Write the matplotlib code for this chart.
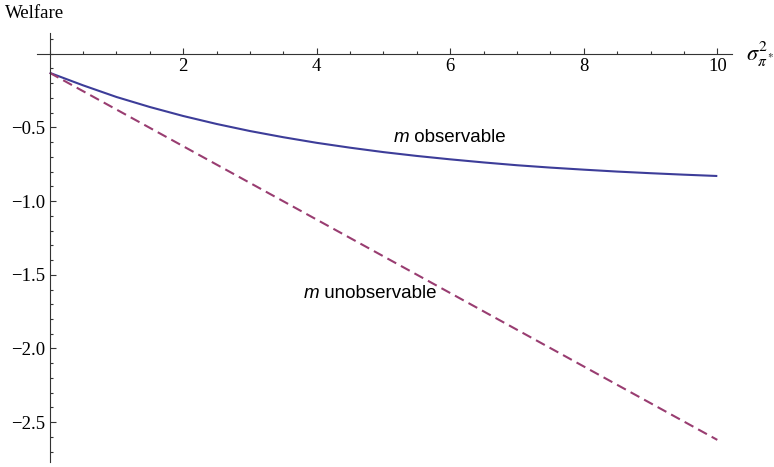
import numpy as np
import matplotlib.pyplot as plt
from matplotlib.ticker import MultipleLocator, FixedLocator

plt.rcParams['mathtext.fontset'] = 'stix'

# values
sigma = [0, 0.5, 1, 1.5, 2, 2.5, 3, 3.5, 4, 4.5, 5, 5.5, 6, 6.5, 7, 7.5, 8, 8.5, 9, 9.5, 10]
welfare_obs = [-0.13, -0.215, -0.294, -0.362, -0.423, -0.477, -0.525, -0.567, -0.605,
               -0.638, -0.668, -0.694, -0.717, -0.738, -0.757, -0.773, -0.787,
               -0.800, -0.811, -0.821, -0.830]
sigma_unobs = [0, 10]
welfare_unobs = [-0.13, -2.62]

blue = '#3d3d99'
purple = '#993d71'

fig = plt.figure(figsize=(7.74, 4.67), dpi=100)
ax = fig.add_axes([37 / 774, 5 / 467, 695 / 774, 429 / 467])

ax.plot(sigma, welfare_obs, color=blue, lw=1.5, solid_capstyle='butt')
ax.plot(sigma_unobs, welfare_unobs, color=purple, lw=1.5, dashes=(4.8, 2.6))

ax.set_xlim(-0.19, 10.22)
ax.set_ylim(-2.77, 0.14)

for s in ['top', 'right']:
    ax.spines[s].set_visible(False)
ax.spines['bottom'].set_position(('data', 0))
ax.spines['left'].set_position(('data', 0))
for s in ['bottom', 'left']:
    ax.spines[s].set_linewidth(0.8)
    ax.spines[s].set_color('#333333')

ax.xaxis.set_major_locator(FixedLocator([2, 4, 6, 8, 10]))
ax.xaxis.set_minor_locator(MultipleLocator(0.5))
ax.yaxis.set_major_locator(FixedLocator([-0.5, -1.0, -1.5, -2.0, -2.5]))
ax.yaxis.set_minor_locator(MultipleLocator(0.1))
ax.set_xticklabels(['2', '4', '6', '8', '10'])
ax.set_yticklabels(['\u22120.5', '\u22121.0', '\u22121.5', '\u22122.0', '\u22122.5'])

ax.tick_params(which='both', direction='in', color='#333333', width=0.8,
               labelsize=13.5, labelfontfamily='Liberation Serif')
ax.tick_params(which='major', length=4.5, pad=3)
ax.tick_params(which='minor', length=2.5)

fig.text(5 / 774, 1 - 13 / 467, 'Welfare', family='Liberation Serif', fontsize=13.5,
         va='center', ha='left')
fig.text(746 / 774, 1 - 54 / 467, r'$\sigma_{\pi^*}^2$', fontsize=16,
         va='center', ha='left')


def curve_label(x, y, rest):
    m = ax.text(x, y, 'm', family='Liberation Sans', style='italic',
                fontsize=13.5, ha='left', va='baseline')
    ax.annotate(' ' + rest, xy=(1, 0), xycoords=m, family='Liberation Sans',
                fontsize=13.5, ha='left', va='bottom')


curve_label(5.15, -0.60, 'observable')
curve_label(3.8, -1.655, 'unobservable')

fig.savefig('out.png', dpi=100)
